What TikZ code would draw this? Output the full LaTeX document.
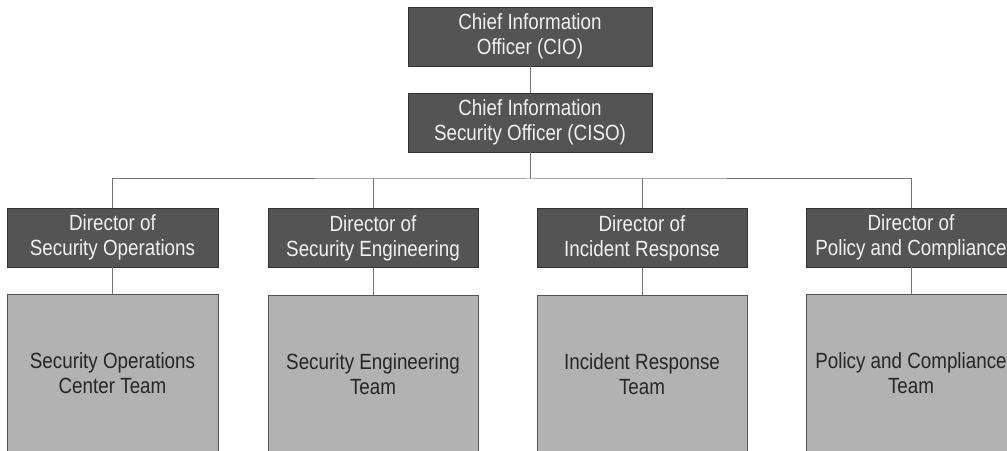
\documentclass[tikz,border=0pt]{standalone}
\usepackage{fontspec}
\setmainfont{Liberation Sans}[FakeStretch=0.855]
\begin{document}
\begin{tikzpicture}[x=1pt,y=1pt,
  link/.style={draw=black!55,line width=1pt},
  head/.style={rectangle,draw=black!80,line width=0.9pt,fill=black!67,
    text=white!94!black,align=center,inner sep=0pt,
    font=\fontsize{22}{25}\selectfont},
  team/.style={rectangle,draw=black!68,line width=0.9pt,fill=black!30,
    text=black!85,align=center,inner sep=0pt,minimum width=210,minimum height=158,
    font=\fontsize{22}{25}\selectfont},
  director/.style={head,minimum width=210,minimum height=59}]
\useasboundingbox (0,0) rectangle (1007,450);
\clip (0,0) rectangle (1007,450);

% executive chain
\node[head,minimum width=244,minimum height=59] (cio) at (530,413.5)
  {Chief Information\\Officer (CIO)};
\node[head,minimum width=244,minimum height=59] (ciso) at (530,327.5)
  {Chief Information\\Security Officer (CISO)};

% directors
\node[director,minimum width=211] (dso) at (112.5,212.5) {Director of\\Security Operations};
\node[director] (dse) at (373,212) {Director of\\Security Engineering};
\node[director] (dir) at (642,212) {Director of\\Incident Response};
\node[director] (dpc) at (911,212.5) {Director of\\Policy and Compliance};

% teams
\node[team,minimum width=211] (tso) at (112.5,77) {Security Operations\\Center Team};
\node[team] (tse) at (373,76) {Security Engineering\\Team};
\node[team] (tir) at (642,76) {Incident Response\\Team};
\node[team] (tpc) at (911,77) {Policy and Compliance\\Team};

% reporting lines
\coordinate (bus) at (530,271);
\draw[link] (cio) -- (ciso);
\draw[link] (ciso.south) -- (bus);
\draw[link] (dso.north) |- (bus) -| (dpc.north);
\draw[link] (dse.north) -- (dse.north |- bus);
\draw[link] (dir.north) -- (dir.north |- bus);
\draw[link] (dso) -- (tso);
\draw[link] (dse) -- (tse);
\draw[link] (dir) -- (tir);
\draw[link] (dpc) -- (tpc);
\end{tikzpicture}
\end{document}
